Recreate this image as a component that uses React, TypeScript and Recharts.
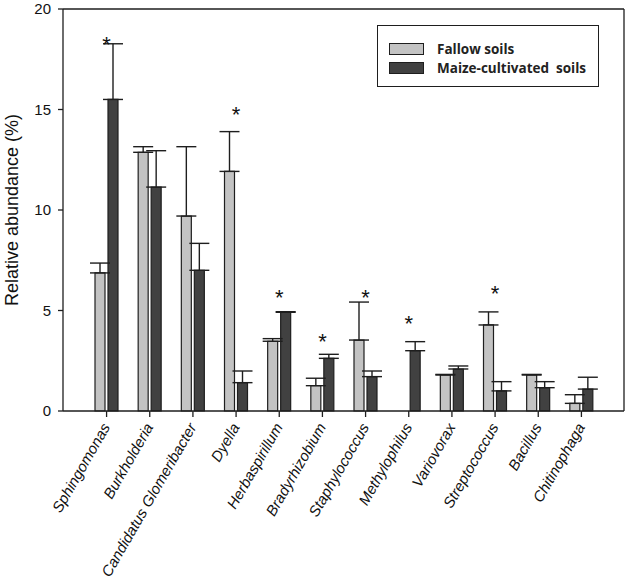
import {
  ComposedChart, Bar, ErrorBar, XAxis, YAxis, ReferenceLine, ReferenceDot,
} from 'recharts'

// genera on the x axis
const genera = [
  'Sphingomonas', 'Burkholderia', 'Candidatus Glomeribacter', 'Dyella',
  'Herbaspirillum', 'Bradyrhizobium', 'Staphylococcus', 'Methylophilus',
  'Variovorax', 'Streptococcus', 'Bacillus', 'Chitinophaga',
]

// relative abundance (%) and upper error (SD)
const fallow = [6.87, 12.87, 9.7, 11.92, 3.47, 1.26, 3.53, 0, 1.79, 4.28, 1.79, 0.38]
const fallowErr = [0.49, 0.28, 3.45, 1.98, 0.13, 0.37, 1.89, null, 0.03, 0.65, 0.03, 0.43]
const maize = [15.5, 11.14, 7.0, 1.41, 4.91, 2.62, 1.71, 3.0, 2.09, 1.0, 1.16, 1.09]
const maizeErr = [2.77, 1.81, 1.34, 0.58, 0.03, 0.2, 0.28, 0.45, 0.15, 0.46, 0.3, 0.59]

// height of the significance asterisk (null = not significant)
const stars = [18.46, null, null, 14.98, 5.87, 3.68, 5.87, 4.58, null, 6.07, null, null]

const yTicks = [0, 5, 10, 15, 20]
const yMax = 20

const LIGHT = '#c3c3c3'
const DARK = '#414141'
const INK = '#1e1e1e'
const FONT = '"Liberation Sans", Arial, sans-serif'

const data = genera.map((name, i) => ({
  name,
  fallow: fallow[i],
  fallowErr: fallowErr[i] == null ? null : [0, fallowErr[i]],
  maize: maize[i],
  maizeErr: [0, maizeErr[i]],
}))

const GenusTick = ({ x, y, payload }: any) => (
  <g transform={`translate(${x + 4},${y + 8}) rotate(-60)`}>
    <text textAnchor="end" fontFamily={FONT} fontSize={15} fontStyle="italic" fill="#111">
      {payload.value}
    </text>
  </g>
)

const Star = ({ cx, cy }: any) => {
  if (cx == null || cy == null) return null
  return (
    <text x={cx} y={cy + 12} textAnchor="middle" fontFamily={FONT} fontSize={22} fill="#111">*</text>
  )
}

const YTitle = ({ viewBox }: any) => {
  const cx = viewBox.x + 4
  const cy = viewBox.y + viewBox.height / 2
  return (
    <text
      transform={`translate(${cx},${cy}) rotate(-90)`}
      textAnchor="middle"
      dominantBaseline="central"
      fontFamily={FONT}
      fontSize={18}
      fill="#111"
    >
      Relative abundance (%)
    </text>
  )
}

const legendItems = [
  { label: 'Fallow soils', color: LIGHT },
  { label: 'Maize-cultivated\u00a0 soils', color: DARK },
]

const LegendBox = () => (
  <div
    style={{
      position: 'absolute', left: 377, top: 25,
      width: 222, height: 62, boxSizing: 'border-box', border: `1.5px solid ${INK}`,
      background: '#fff', padding: '13px 0 0 11px',
      fontFamily: '"Open Sans", sans-serif', fontWeight: 700, fontSize: 13.5, color: '#222',
    }}
  >
    {legendItems.map((it) => (
      <div key={it.label} style={{ display: 'flex', alignItems: 'center', height: 19 }}>
        <span
          style={{
            display: 'inline-block', width: 35, height: 12, boxSizing: 'border-box',
            background: it.color, border: `1.5px solid ${INK}`, marginRight: 13,
          }}
        />
        <span>{it.label}</span>
      </div>
    ))}
  </div>
)

export default function App() {
  return (
    <div style={{ position: 'absolute', left: 0, top: 0, width: 628, height: 582, background: '#fff' }}>
      <ComposedChart
        width={628}
        height={582}
        data={data}
        margin={{ top: 9, right: 0, bottom: 10, left: 8 }}
        barSize={10}
        barGap={3}
      >
        <XAxis
          dataKey="name"
          height={161}
          padding={{ left: 22, right: 21 }}
          interval={0}
          tick={<GenusTick />}
          tickSize={6}
          tickMargin={2}
          stroke={INK}
          strokeWidth={1.3}
        />
        <YAxis
          domain={[0, yMax]}
          ticks={yTicks}
          width={55}
          tickSize={5}
          tickMargin={7}
          tick={{ fontFamily: FONT, fontSize: 15, fill: '#111' }}
          stroke={INK}
          strokeWidth={1.3}
          label={<YTitle />}
        />
        {/* right edge of the plot frame */}
        <YAxis yAxisId="frame" orientation="right" domain={[0, yMax]} width={4} stroke={INK} strokeWidth={1.3} />
        {/* top edge of the plot frame */}
        <ReferenceLine y={yMax} stroke={INK} strokeWidth={1.3} />
        <Bar dataKey="fallow" fill={LIGHT} stroke={INK} strokeWidth={1.2} isAnimationActive={false}>
          <ErrorBar dataKey="fallowErr" direction="y" width={10} stroke={INK} strokeWidth={1.4} />
        </Bar>
        <Bar dataKey="maize" fill={DARK} stroke={INK} strokeWidth={1.2} isAnimationActive={false}>
          <ErrorBar dataKey="maizeErr" direction="y" width={10} stroke={INK} strokeWidth={1.4} />
        </Bar>
        {genera.map((name, i) =>
          stars[i] == null ? null : (
            <ReferenceDot key={name} x={name} y={stars[i] as number} r={0} shape={<Star />} ifOverflow="visible" />
          ),
        )}
      </ComposedChart>
      <LegendBox />
    </div>
  )
}
